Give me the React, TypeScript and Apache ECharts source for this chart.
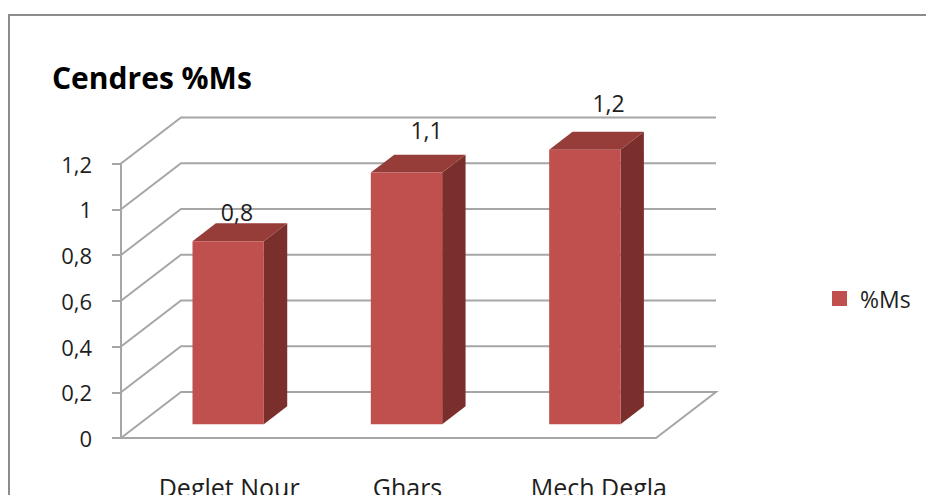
import React, { useEffect, useRef } from "react";
import * as echarts from "echarts";

// Ash content per date variety
const categories = ["Deglet Nour", "Ghars", "Mech Degla"];
const values = [0.8, 1.1, 1.2];
const seriesName = "%Ms";
const titleText = "Cendres %Ms";
const yTicks = [0, 0.2, 0.4, 0.6, 0.8, 1, 1.2];

// Oblique projection of the box: offset from the front plane to the back wall
const DEPTH_X = 60;
const DEPTH_Y = -46;
// Bars sit between these depth fractions of the box
const BAR_FRONT = 0.3;
const BAR_BACK = 0.69;
const BAR_WIDTH_RATIO = 0.4;

const FONT = '"Open Sans", "Noto Sans", sans-serif';
const GRID_COLOR = "#A6A6A6";
const TEXT_COLOR = "#1E1E1E";
const FRONT_COLOR = "#C0504D";
const TOP_COLOR = "#963D3A";
const SIDE_COLOR = "#7A2F2D";

const fmt = (v: number) => String(+Number(v).toFixed(1)).replace(".", ",");

export default function App() {
  const ref = useRef<HTMLDivElement>(null);

  useEffect(() => {
    if (!ref.current) return;
    const chart = echarts.init(ref.current, undefined, { renderer: "svg" });

    const wallRender = (params: any, api: any) => {
      const v = api.value(1);
      const cs = params.coordSys;
      const y = api.coord([0, v])[1];
      const left = cs.x;
      const right = cs.x + cs.width;
      const pts =
        v === 0
          ? [
              [left, y],
              [left + DEPTH_X, y + DEPTH_Y],
              [right + DEPTH_X, y + DEPTH_Y],
              [right, y],
              [left, y],
            ]
          : [
              [left, y],
              [left + DEPTH_X, y + DEPTH_Y],
              [right + DEPTH_X, y + DEPTH_Y],
            ];
      return {
        type: "polyline",
        shape: { points: pts },
        style: { stroke: GRID_COLOR, lineWidth: 2, fill: "none" },
        silent: true,
      };
    };

    const barRender = (params: any, api: any) => {
      const i = api.value(0);
      const v = api.value(1);
      const [cx, yTop] = api.coord([i, v]);
      const yBase = api.coord([i, 0])[1];
      const band = api.size([1, 0])[0];
      const bw = band * BAR_WIDTH_RATIO;
      const ox = DEPTH_X * BAR_FRONT;
      const oy = DEPTH_Y * BAR_FRONT;
      const dx = DEPTH_X * (BAR_BACK - BAR_FRONT);
      const dy = DEPTH_Y * (BAR_BACK - BAR_FRONT);
      const x0 = cx - bw / 2 + ox;
      const x1 = x0 + bw;
      const yt = yTop + oy;
      const yb = yBase + oy;
      const h = yBase - yTop;
      // value label floats above the bar, rising with the bar's height
      const lx = (x0 + x1) / 2 + 0.163 * h - 21;
      const ly = yTop - 0.2 * h - 6;
      return {
        type: "group",
        children: [
          {
            type: "polygon",
            shape: {
              points: [
                [x1, yt],
                [x1 + dx, yt + dy],
                [x1 + dx, yb + dy],
                [x1, yb],
              ],
            },
            style: { fill: SIDE_COLOR },
          },
          {
            type: "polygon",
            shape: {
              points: [
                [x0, yt],
                [x1, yt],
                [x1 + dx, yt + dy],
                [x0 + dx, yt + dy],
              ],
            },
            style: { fill: TOP_COLOR },
          },
          {
            type: "rect",
            shape: { x: x0, y: yt, width: bw, height: yb - yt },
            style: { fill: FRONT_COLOR },
          },
          {
            type: "text",
            x: lx,
            y: ly,
            style: {
              text: fmt(v),
              align: "center",
              verticalAlign: "middle",
              fontSize: 23,
              fontFamily: FONT,
              fill: TEXT_COLOR,
            },
          },
        ],
      };
    };

    const catLabelStyle = {
      fontSize: 25,
      fontFamily: FONT,
      color: TEXT_COLOR,
    };

    chart.setOption({
      animation: false,
      backgroundColor: "#ffffff",
      title: {
        text: titleText,
        left: 47,
        top: 57,
        padding: 5,
        textStyle: {
          fontSize: 30,
          fontWeight: "bold",
          fontFamily: FONT,
          color: "#000000",
        },
      },
      legend: {
        data: [{ name: seriesName, icon: "rect" }],
        left: 827,
        top: 282,
        padding: 5,
        itemWidth: 15,
        itemHeight: 15,
        selectedMode: false,
        textStyle: {
          fontSize: 23,
          fontFamily: FONT,
          color: TEXT_COLOR,
          padding: [0, 0, 0, 8],
        },
      },
      grid: {
        left: 121,
        top: 163.5,
        width: 535,
        height: 274.5,
        containLabel: false,
        outerBoundsMode: "none",
      },
      xAxis: {
        type: "category",
        data: categories,
        axisLine: { show: false },
        axisTick: { show: false },
        axisLabel: {
          interval: 0,
          hideOverlap: false,
          margin: 36,
          ...catLabelStyle,
          padding: [0, 0, 0, 38],
          // the last label sits a little further right under its bar
          formatter: (val: string, idx: number) =>
            idx === categories.length - 1 ? `{far|${val}}` : `{near|${val}}`,
          rich: {
            near: { ...catLabelStyle },
            far: { ...catLabelStyle, padding: [0, 0, 0, 26] },
          },
        },
      },
      yAxis: {
        type: "value",
        min: 0,
        max: 1.2,
        interval: 0.2,
        axisLine: { show: true, lineStyle: { color: GRID_COLOR, width: 2 } },
        axisTick: { show: true, length: 9, lineStyle: { color: GRID_COLOR, width: 2 } },
        axisLabel: {
          margin: 29,
          fontSize: 22,
          fontFamily: FONT,
          color: TEXT_COLOR,
          formatter: (v: number) => fmt(v),
        },
        splitLine: { show: false },
      },
      graphic: [
        {
          type: "rect",
          shape: { x: 9, y: 15, width: 960, height: 520 },
          style: { fill: "none", stroke: "#8C8C8C", lineWidth: 2 },
          silent: true,
          z: 100,
        },
      ],
      series: [
        {
          type: "custom",
          name: "walls",
          renderItem: wallRender,
          data: yTicks.map((t) => [0, t]),
          encode: { x: 0, y: 1 },
          silent: true,
          z: 1,
        },
        {
          type: "custom",
          name: seriesName,
          renderItem: barRender,
          data: values.map((v, i) => [i, v]),
          encode: { x: 0, y: 1 },
          itemStyle: { color: FRONT_COLOR },
          z: 2,
        },
      ],
    });

    return () => chart.dispose();
  }, []);

  return (
    <div
      ref={ref}
      style={{ position: "fixed", left: 0, top: 0, width: 926, height: 495 }}
    />
  );
}
